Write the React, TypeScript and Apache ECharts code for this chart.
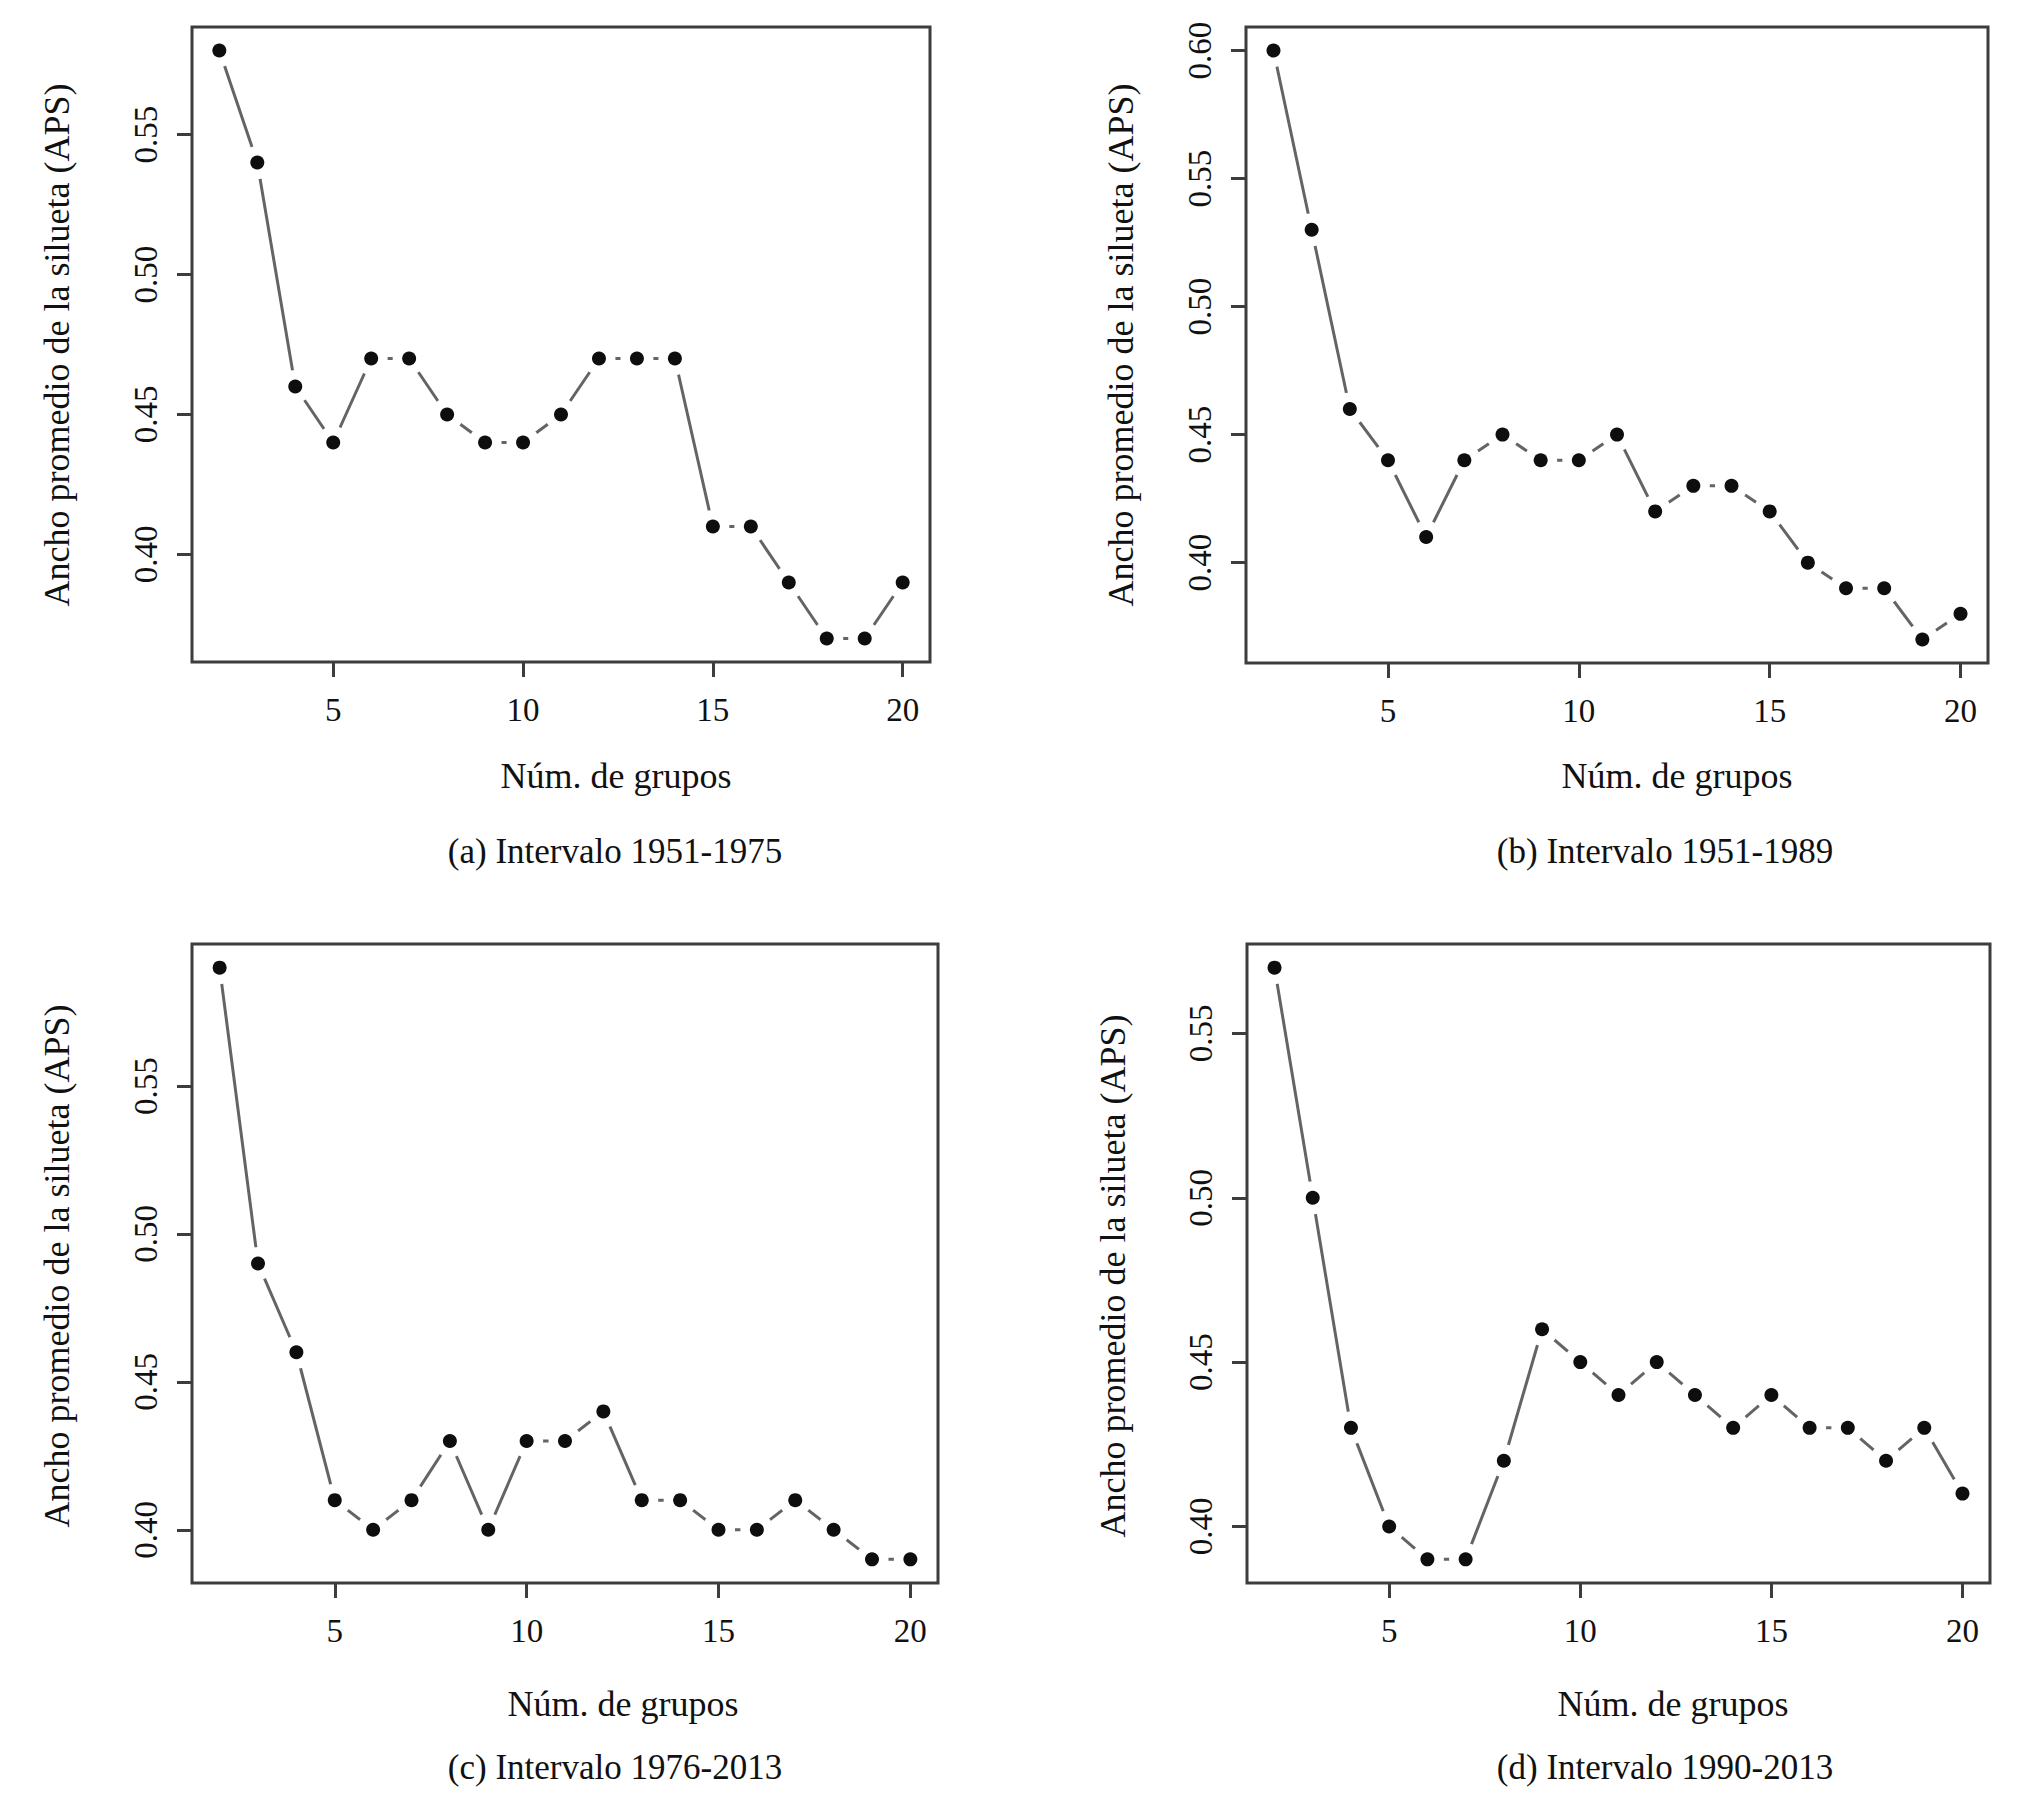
import React, { useEffect, useRef } from "react";
import * as echarts from "echarts";

// Número de grupos (eje x)
const groups = [2, 3, 4, 5, 6, 7, 8, 9, 10, 11, 12, 13, 14, 15, 16, 17, 18, 19, 20];

// Ancho promedio de la silueta (APS) por panel
const apsA = [0.58, 0.54, 0.46, 0.44, 0.47, 0.47, 0.45, 0.44, 0.44, 0.45, 0.47, 0.47, 0.47, 0.41, 0.41, 0.39, 0.37, 0.37, 0.39];
const apsB = [0.60, 0.53, 0.46, 0.44, 0.41, 0.44, 0.45, 0.44, 0.44, 0.45, 0.42, 0.43, 0.43, 0.42, 0.40, 0.39, 0.39, 0.37, 0.38];
const apsC = [0.59, 0.49, 0.46, 0.41, 0.40, 0.41, 0.43, 0.40, 0.43, 0.43, 0.44, 0.41, 0.41, 0.40, 0.40, 0.41, 0.40, 0.39, 0.39];
const apsD = [0.57, 0.50, 0.43, 0.40, 0.39, 0.39, 0.42, 0.46, 0.45, 0.44, 0.45, 0.44, 0.43, 0.44, 0.43, 0.43, 0.42, 0.43, 0.41];

// Tick labels
const xTicks = [5, 10, 15, 20];
const yTicksA = [0.40, 0.45, 0.50, 0.55];
const yTicksB = [0.40, 0.45, 0.50, 0.55, 0.60];
const yTicksC = [0.40, 0.45, 0.50, 0.55];
const yTicksD = [0.40, 0.45, 0.50, 0.55];

// Texts
const xName = "Núm. de grupos";
const yName = "Ancho promedio de la silueta (APS)";
const captions = [
  "(a) Intervalo 1951-1975",
  "(b) Intervalo 1951-1989",
  "(c) Intervalo 1976-2013",
  "(d) Intervalo 1990-2013",
];

const FONT_FAMILY = '"Liberation Serif", "Times New Roman", serif';
const BOX = "#3d3d3d";
const LINE = "#646464";
const DOT = "#0e0e0e";

const panels = [
  { values: apsA, yTicks: yTicksA, grid: { left: 192, top: 27, width: 738, height: 635 },
    yNameX: 57, yNameY: 345, xNameX: 616, xNameY: 776, capX: 615, capY: 851 },
  { values: apsB, yTicks: yTicksB, grid: { left: 1246, top: 27, width: 742, height: 636 },
    yNameX: 1121, yNameY: 345, xNameX: 1677, xNameY: 776, capX: 1665, capY: 851 },
  { values: apsC, yTicks: yTicksC, grid: { left: 192, top: 944, width: 746, height: 639 },
    yNameX: 57, yNameY: 1266, xNameX: 623, xNameY: 1704, capX: 615, capY: 1767 },
  { values: apsD, yTicks: yTicksD, grid: { left: 1247, top: 944, width: 743, height: 639 },
    yNameX: 1113, yNameY: 1276, xNameX: 1673, xNameY: 1704, capX: 1665, capY: 1767 },
];

// R-style 4% axis padding
function padRange(arr: number[]) {
  const lo = Math.min(...arr);
  const hi = Math.max(...arr);
  const d = (hi - lo) * 0.04;
  return [lo - d, hi + d];
}

export default function App() {
  const ref = useRef<HTMLDivElement>(null);

  useEffect(() => {
    if (!ref.current) return;
    const chart = echarts.init(ref.current, null, { renderer: "svg" });

    const [xMin, xMax] = padRange(groups);

    const grid: any[] = [];
    const xAxis: any[] = [];
    const yAxis: any[] = [];
    const series: any[] = [];
    const graphic: any[] = [];

    panels.forEach((p, i) => {
      const [yMin, yMax] = padRange(p.values);
      grid.push({
        ...p.grid,
        show: true,
        borderColor: BOX,
        borderWidth: 3,
        backgroundColor: "transparent",
        containLabel: false,
      });
      xAxis.push({
        type: "value",
        gridIndex: i,
        min: xMin,
        max: xMax,
        axisLine: { show: false },
        splitLine: { show: false },
        axisTick: {
          show: true,
          inside: false,
          length: 15,
          customValues: xTicks,
          lineStyle: { color: BOX, width: 3 },
        },
        axisLabel: {
          show: true,
          customValues: xTicks,
          margin: 31,
          fontFamily: FONT_FAMILY,
          fontSize: 33,
          color: "#111",
          formatter: (v: number) => String(Math.round(v)),
        },
      });
      yAxis.push({
        type: "value",
        gridIndex: i,
        min: yMin,
        max: yMax,
        axisLine: { show: false },
        splitLine: { show: false },
        axisTick: {
          show: true,
          inside: false,
          length: 15,
          customValues: p.yTicks,
          lineStyle: { color: BOX, width: 3 },
        },
        axisLabel: {
          show: true,
          customValues: p.yTicks,
          rotate: 90,
          margin: 30,
          fontFamily: FONT_FAMILY,
          fontSize: 33,
          color: "#111",
          formatter: (v: number) => v.toFixed(2),
        },
      });
      const data = groups.map((g, k) => [g, p.values[k]]);
      series.push({
        type: "line",
        xAxisIndex: i,
        yAxisIndex: i,
        data,
        symbol: "none",
        lineStyle: { color: LINE, width: 3 },
        z: 2,
        silent: true,
      });
      series.push({
        type: "scatter",
        xAxisIndex: i,
        yAxisIndex: i,
        data,
        symbol: "circle",
        symbolSize: 33,
        itemStyle: { color: "#ffffff", opacity: 1 },
        z: 3,
        silent: true,
      });
      series.push({
        type: "scatter",
        xAxisIndex: i,
        yAxisIndex: i,
        data,
        symbol: "circle",
        symbolSize: 14,
        itemStyle: { color: DOT, opacity: 1 },
        z: 4,
        silent: true,
      });

      graphic.push({
        type: "text",
        x: p.yNameX,
        y: p.yNameY,
        rotation: Math.PI / 2,
        style: {
          text: yName,
          fontFamily: FONT_FAMILY,
          fontSize: 36,
          fill: "#111",
          align: "center",
          verticalAlign: "middle",
        },
      });
      graphic.push({
        type: "text",
        x: p.xNameX,
        y: p.xNameY,
        style: {
          text: xName,
          fontFamily: FONT_FAMILY,
          fontSize: 36,
          fill: "#111",
          align: "center",
          verticalAlign: "middle",
        },
      });
      graphic.push({
        type: "text",
        x: p.capX,
        y: p.capY,
        style: {
          text: captions[i],
          fontFamily: FONT_FAMILY,
          fontSize: 35,
          fill: "#111",
          align: "center",
          verticalAlign: "middle",
        },
      });
    });

    chart.setOption({
      animation: false,
      backgroundColor: "#ffffff",
      grid,
      xAxis,
      yAxis,
      series,
      graphic,
    });

    return () => {
      chart.dispose();
    };
  }, []);

  return (
    <div
      ref={ref}
      style={{ position: "absolute", left: 0, top: 0, width: 2032, height: 1802 }}
    />
  );
}
